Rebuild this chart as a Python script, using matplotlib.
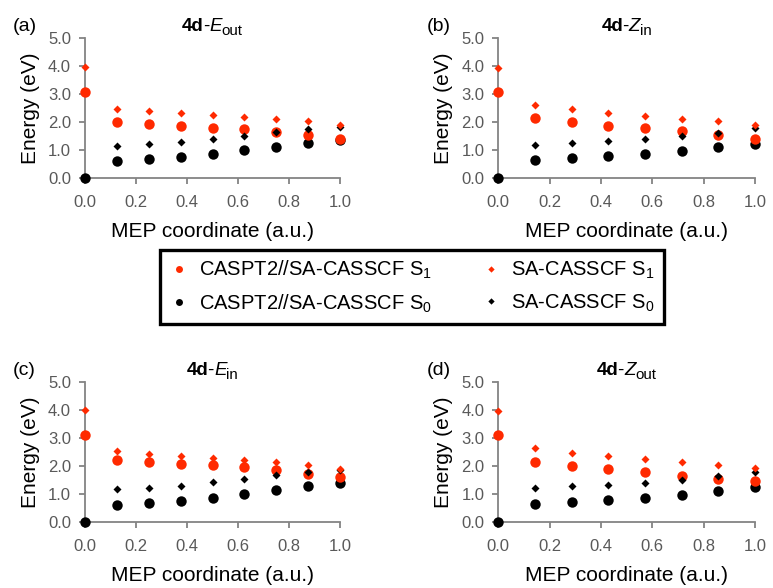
import matplotlib
matplotlib.use("Agg")
import matplotlib.pyplot as plt
from matplotlib.lines import Line2D
from matplotlib.ticker import FormatStrFormatter

plt.rcParams['font.family'] = ['Liberation Sans', 'DejaVu Sans']
plt.rcParams['mathtext.fontset'] = 'custom'
plt.rcParams['mathtext.rm'] = 'Liberation Sans'
plt.rcParams['mathtext.it'] = 'Liberation Sans:italic'

# MEP coordinates
x8 = [0.0, 0.125, 0.25, 0.375, 0.5, 0.625, 0.75, 0.875, 1.0]
x7 = [0.0, 0.143, 0.286, 0.429, 0.571, 0.714, 0.857, 1.0]

# (a) 4d-E_out
a_pt2_s1 = [3.07, 2.02, 1.94, 1.87, 1.81, 1.75, 1.67, 1.55, 1.42]
a_sa_s1 = [3.99, 2.48, 2.40, 2.32, 2.25, 2.20, 2.12, 2.04, 1.89]
a_pt2_s0 = [0.0, 0.62, 0.69, 0.77, 0.88, 1.00, 1.12, 1.25, 1.38]
a_sa_s0 = [0.0, 1.15, 1.21, 1.30, 1.40, 1.52, 1.64, 1.75, 1.85]

# (b) 4d-Z_in
b_pt2_s1 = [3.07, 2.16, 2.00, 1.88, 1.78, 1.68, 1.53, 1.41]
b_sa_s1 = [3.93, 2.62, 2.46, 2.33, 2.23, 2.13, 2.04, 1.91]
b_pt2_s0 = [0.0, 0.64, 0.71, 0.79, 0.88, 0.97, 1.11, 1.23]
b_sa_s0 = [0.0, 1.18, 1.27, 1.33, 1.39, 1.50, 1.62, 1.80]

# (c) 4d-E_in
c_pt2_s1 = [3.10, 2.21, 2.14, 2.08, 2.03, 1.96, 1.87, 1.73, 1.63]
c_sa_s1 = [4.01, 2.53, 2.43, 2.35, 2.29, 2.21, 2.14, 2.05, 1.92]
c_pt2_s0 = [0.0, 0.62, 0.70, 0.76, 0.88, 1.00, 1.16, 1.28, 1.40]
c_sa_s0 = [0.0, 1.19, 1.24, 1.31, 1.43, 1.54, 1.68, 1.78, 1.85]

# (d) 4d-Z_out
d_pt2_s1 = [3.10, 2.17, 2.02, 1.90, 1.79, 1.66, 1.54, 1.46]
d_sa_s1 = [3.99, 2.65, 2.49, 2.36, 2.26, 2.15, 2.03, 1.93]
d_pt2_s0 = [0.0, 0.64, 0.73, 0.78, 0.88, 0.98, 1.12, 1.25]
d_sa_s0 = [0.0, 1.22, 1.28, 1.34, 1.40, 1.52, 1.64, 1.78]

RED = '#ff2a00'
GRAY = '#848484'
TICK = '#595959'

W, H = 773.0, 588.0
fig = plt.figure(figsize=(7.73, 5.88), dpi=100)
renderer = fig.canvas.get_renderer()


def rich_title(xc, ybase, letter, sub, size=13.5):
    # "4d" bold, "-", italic letter, subscript, laid out side by side
    parts = [('4d', dict(weight='bold'), size, 0, -1),
             ('-', {}, size, 0, 0),
             (letter, dict(style='italic'), size, 0, 0),
             (sub, {}, size * 0.8, -4, 0)]
    texts = []
    for s, kw, fs, dy, kern in parts:
        t = fig.text(0, 0, s, fontsize=fs, va='baseline', ha='left', **kw)
        texts.append((t, dy, kern))
    widths = [t.get_window_extent(renderer).width + k for t, _, k in texts]
    x = xc - sum(widths) / 2
    for (t, dy, _), w in zip(texts, widths):
        t.set_position((x / W, 1 - (ybase - dy) / H))
        x += w


panels = [
    ('(a)', 'E', 'out', 85, 178.3, 255, x8, a_pt2_s1, a_sa_s1, a_pt2_s0, a_sa_s0),
    ('(b)', 'Z', 'in', 498.3, 178.3, 256.7, x7, b_pt2_s1, b_sa_s1, b_pt2_s0, b_sa_s0),
    ('(c)', 'E', 'in', 85, 522.3, 255, x8, c_pt2_s1, c_sa_s1, c_pt2_s0, c_sa_s0),
    ('(d)', 'Z', 'out', 498.3, 522.3, 256.7, x7, d_pt2_s1, d_sa_s1, d_pt2_s0, d_sa_s0),
]

for lab, letter, sub, left, bottom, width, x, pt2_s1, sa_s1, pt2_s0, sa_s0 in panels:
    ax = fig.add_axes([left / W, 1 - bottom / H, width / W, 140 / H])
    ax.plot(x, pt2_s0, 'o', color='black', ms=7.5, mec='none', clip_on=False, zorder=3)
    ax.plot(x, pt2_s1, 'o', color=RED, ms=7.5, mec='none', clip_on=False, zorder=3)
    ax.plot(x, sa_s0, 'D', color='black', ms=4.0, mec='none', clip_on=False, zorder=3)
    ax.plot(x, sa_s1, 'D', color=RED, ms=4.0, mec='none', clip_on=False, zorder=3)
    ax.set_xlim(0, 1.0)
    ax.set_ylim(0, 5.0)
    ax.set_xticks([0, 0.2, 0.4, 0.6, 0.8, 1.0])
    ax.set_yticks([0, 1, 2, 3, 4, 5])
    ax.xaxis.set_major_formatter(FormatStrFormatter('%.1f'))
    ax.yaxis.set_major_formatter(FormatStrFormatter('%.1f'))
    for s in ['top', 'right']:
        ax.spines[s].set_visible(False)
    for s in ['left', 'bottom']:
        ax.spines[s].set_color(GRAY)
        ax.spines[s].set_linewidth(1.3)
    ax.tick_params(axis='both', colors=GRAY, labelcolor=TICK, labelsize=12,
                   direction='out', length=4, width=1.3)
    ax.tick_params(axis='x', pad=8)
    ax.tick_params(axis='y', pad=6)
    ax.set_xlabel('MEP coordinate (a.u.)', fontsize=15, labelpad=8.5)
    ax.set_ylabel('Energy (eV)', fontsize=15, labelpad=6)
    top = bottom - 140
    rich_title(left + width / 2, top - 7, letter, sub)
    fig.text((left - 72) / W, 1 - (top - 7.3) / H, lab, fontsize=14,
             ha='left', va='baseline')

handles = [
    Line2D([], [], ls='none', marker='o', color=RED, ms=5, mec='none'),
    Line2D([], [], ls='none', marker='o', color='black', ms=5, mec='none'),
    Line2D([], [], ls='none', marker='D', color=RED, ms=3.2, mec='none'),
    Line2D([], [], ls='none', marker='D', color='black', ms=3.2, mec='none'),
]
labels = ['CASPT2//SA-CASSCF S$_1$', 'CASPT2//SA-CASSCF S$_0$',
          'SA-CASSCF S$_1$', 'SA-CASSCF S$_0$']
leg = fig.legend(handles, labels, ncol=2, loc='upper left',
                 bbox_to_anchor=(160 / W, 1 - 250 / H), fontsize=14.5,
                 frameon=True, fancybox=False, edgecolor='black', framealpha=1,
                 handlelength=1.0, handletextpad=0.5, columnspacing=2.4,
                 borderpad=0.45, labelspacing=0.55, borderaxespad=0)
leg.get_frame().set_linewidth(2.4)

fig.savefig('out.png', dpi=100)
